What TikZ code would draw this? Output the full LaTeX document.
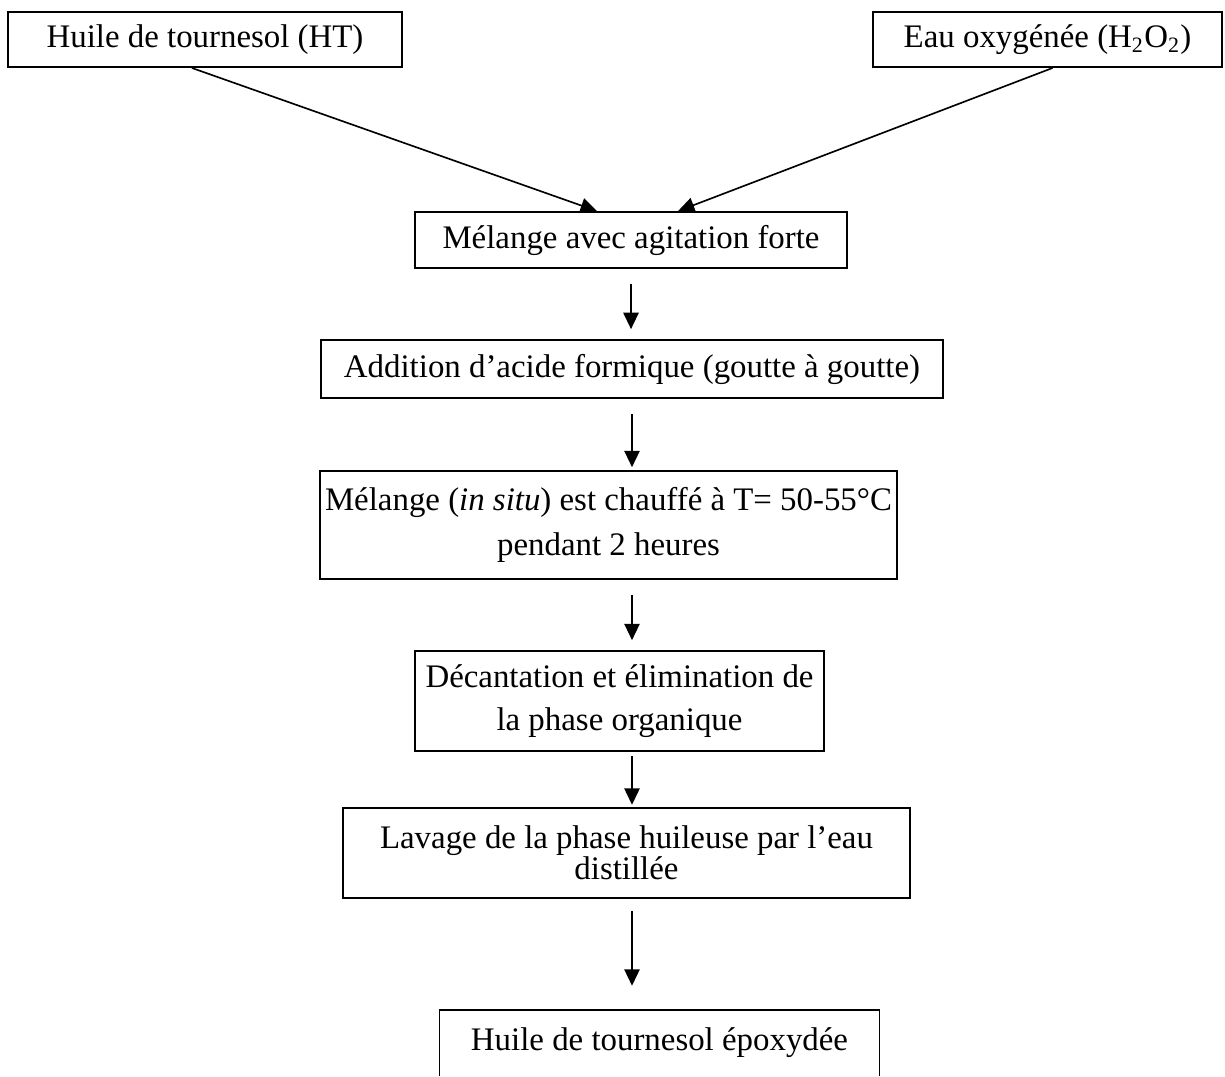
\documentclass[tikz,border=0pt]{standalone}
\usepackage{fontspec}
\setmainfont{Liberation Serif}
\usetikzlibrary{arrows.meta, positioning, calc}

\begin{document}
\begin{tikzpicture}[
  x=0.365pt, y=-0.365pt,
  pbox/.style={draw, line width=0.7pt, inner sep=0pt, align=center,
    font=\fontsize{12}{14}\selectfont},
  arr/.style={->, line width=0.6pt},
  >={Triangle[length=6pt, width=5.6pt]}
]
  \useasboundingbox (0,0) rectangle (1225,1076);

  %% STARTING MATERIALS
  \node[pbox, minimum width=143.8pt, minimum height=20.1pt] (ht) at (205, 39.5)
    {Huile de tournesol (HT)};
  \node[pbox, minimum width=127.4pt, minimum height=20.1pt] (hpo) at (1047.5, 39.5)
    {Eau oxygénée (H\textsubscript{2}O\textsubscript{2})};

  %% PROCESS STEPS
  \node[pbox, minimum width=157.7pt, minimum height=20.4pt] (mel) at (631, 240)
    {Mélange avec agitation forte};
  \node[pbox, minimum width=227pt, minimum height=21.2pt] (add) at (632, 369)
    {Addition d’acide formique (goutte à goutte)};
  \node[pbox, minimum width=210.6pt, minimum height=39.1pt] (situ) at (608.5, 525)
    {Mélange (\textit{in situ}) est chauffé à T= 50-55°C\\[2.4pt]
     pendant 2 heures};
  \node[pbox, minimum width=149.3pt, minimum height=36.5pt] (dec) at (619.5, 701)
    {Décantation et élimination de\\[1.8pt]
     la phase organique};
  \node[pbox, minimum width=207pt, minimum height=32.9pt] (lav) at (626.5, 853)
    {Lavage de la phase huileuse par l’eau\\[-2.6pt]
     distillée};

  %% PRODUCT (box runs off the page)
  \node[font=\fontsize{12}{14}\selectfont, inner sep=0pt,
    minimum width=160.2pt, minimum height=23.4pt] (fin) at (659.5, 1043)
    {Huile de tournesol époxydée};
  \draw[line width=0.7pt] (fin.south west) -- (fin.north west)
    -- (fin.north east) -- (fin.south east);

  %%======== ARROWS ========
  %% Two inputs converge on the mixing step
  \draw[arr] ($(ht.south)+(-13,0)$) -- ($(mel.north)+(-34,0)$);
  \draw[arr] ($(hpo.south)+(5,0)$) -- ($(mel.north)+(47,0)$);
  %% Vertical chain
  \draw[arr, shorten <=5.5pt, shorten >=3.6pt] (mel.south) -- (mel.south |- add.north);
  \draw[arr, shorten <=5.5pt, shorten >=1.2pt] (add.south) -- (add.south |- situ.north);
  \draw[arr, shorten <=5.5pt, shorten >=3.6pt] (add.south |- situ.south) -- (add.south |- dec.north);
  \draw[arr, shorten <=1.5pt, shorten >=0.8pt] (add.south |- dec.south) -- (add.south |- lav.north);
  \draw[arr, shorten <=4.5pt, shorten >=9pt] (add.south |- lav.south) -- (add.south |- fin.north);

\end{tikzpicture}
\end{document}
